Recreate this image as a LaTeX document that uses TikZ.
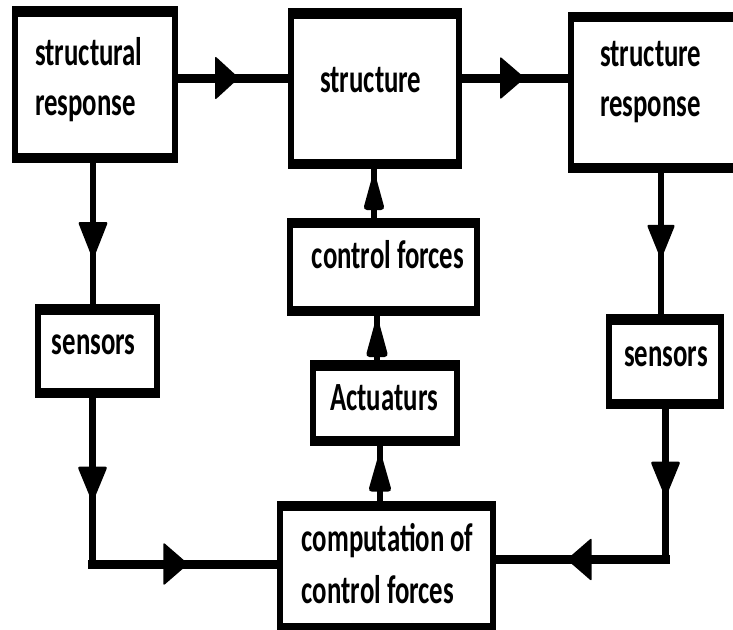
\documentclass[tikz,border=0pt]{standalone}
\usepackage{fontspec}
\setmainfont{Carlito}
\usetikzlibrary{decorations.markings}
\newcommand\sq[1]{\scalebox{0.67}[1]{#1}}
\tikzset{
  box/.style={draw=black, line width=6pt, fill=white, inner sep=0pt, outer sep=3pt,
    path picture={
      \fill[black] (path picture bounding box.north west) rectangle ([yshift=-7.5pt]path picture bounding box.north east);
      \fill[black] (path picture bounding box.south west) rectangle ([yshift=7pt]path picture bounding box.south east);
    }},
  lbl/.style={inner sep=0pt, anchor=base west, align=left, font=\bfseries\fontsize{40}{50}\selectfont},
  vline/.style={line width=6.5pt, line cap=rect},
  hline/.style={line width=9pt, line cap=rect},
  ah/.style n args={3}{postaction={decorate, decoration={markings,
      mark=at position #1 with {\fill[rounded corners=2pt] (0pt,-#3) -- (#2,0pt) -- (0pt,#3) -- cycle;}}}},
  ahc/.style n args={3}{postaction={decorate, decoration={markings,
      mark=at position #1 with {\fill[rounded corners=4pt] (0pt,-#3) -- (#2,0pt) -- (0pt,#3) -- cycle;}}}}
}
\begin{document}
\begin{tikzpicture}[x=1pt,y=-1pt]
\clip (0,0) rectangle (733,629);
\fill[white] (0,0) rectangle (733,629);
% boxes
\node[box, minimum width=160pt, minimum height=151pt] (b1) at (95,84.5) {};
\node[box, minimum width=168pt, minimum height=154.7pt] (b2) at (375,88.7) {};
\node[box, minimum width=189pt, minimum height=155pt] (b3) at (665.5,92.3) {};
\node[box, minimum width=119pt, minimum height=88pt] (s1) at (97.5,351) {};
\node[box, minimum width=112pt, minimum height=89pt] (s2) at (665,361.5) {};
\node[box, minimum width=186.7pt, minimum height=92pt] (cf) at (383.7,266.7) {};
\node[box, minimum width=144pt, minimum height=80pt] (act) at (385,403) {};
\node[box, minimum width=212.7pt, minimum height=126pt] (comp) at (386.7,566.7) {};
% labels
\node[lbl] (t1) at (35,115) {\sq{structural}\\\sq{response}};
\node[lbl] (t2) at (320,92) {\sq{structure}};
\node[lbl] (t3) at (600,116) {\sq{structure}\\\sq{response}};
\node[lbl, font=\bfseries\fontsize{40}{52}\selectfont] (t8) at (301.7,603) {\sq{computation of}\\\sq{control forces}};
\node[lbl] (t4) at (51.7,354) {\sq{sensors}};
\node[lbl] (t5) at (624,366.7) {\sq{sensors}};
\node[lbl] (t6) at (311.7,268.3) {\sq{control forces}};
\node[lbl] (t7) at (330,410) {\sq{Actuaturs}};
% helper coordinates
\coordinate (yA) at (0,78);
\coordinate (xL) at (93,0);
\coordinate (xR) at (661,0);
\coordinate (cl) at (92.5,564);
\coordinate (cr) at (665.5,559.5);
\coordinate (xc1) at (380,0);
\coordinate (xc2) at (377,0);
\coordinate (xc3) at (374,0);
% connectors
\draw[hline, ah={37pt}{24pt}{22pt}] (b1.east |- yA) -- (b2.west |- yA);
\draw[hline, ah={38pt}{25pt}{21.5pt}] (b2.east |- yA) -- (b3.west |- yA);
\draw[vline, ah={59pt}{38pt}{15pt}] (xL |- b1.south) -- (xL |- s1.north);
\draw[vline, ah={68.7pt}{36.3pt}{15pt}] (cl |- s1.south) -- (cl);
\draw[hline, ah={70.8pt}{25pt}{21.7pt}] (cl) -- (cl -| comp.west);
\draw[vline, ah={52pt}{35pt}{14.2pt}] (xR |- b3.south) -- (xR |- s2.north);
\draw[vline, ah={52.7pt}{36.6pt}{15pt}] (cr |- s2.south) -- (cr);
\draw[hline, ah={73.8pt}{25pt}{21.7pt}] (cr) -- (cr -| comp.east);
\draw[vline, ahc={9pt}{42pt}{12pt}] (xc1 |- comp.north) -- (xc1 |- act.south);
\draw[vline, ahc={3pt}{42pt}{11.5pt}] (xc2 |- act.north) -- (xc2 |- cf.south);
\draw[vline, ahc={7.7pt}{40pt}{11pt}] (xc3 |- cf.north) -- (xc3 |- b2.south);
\end{tikzpicture}
\end{document}
